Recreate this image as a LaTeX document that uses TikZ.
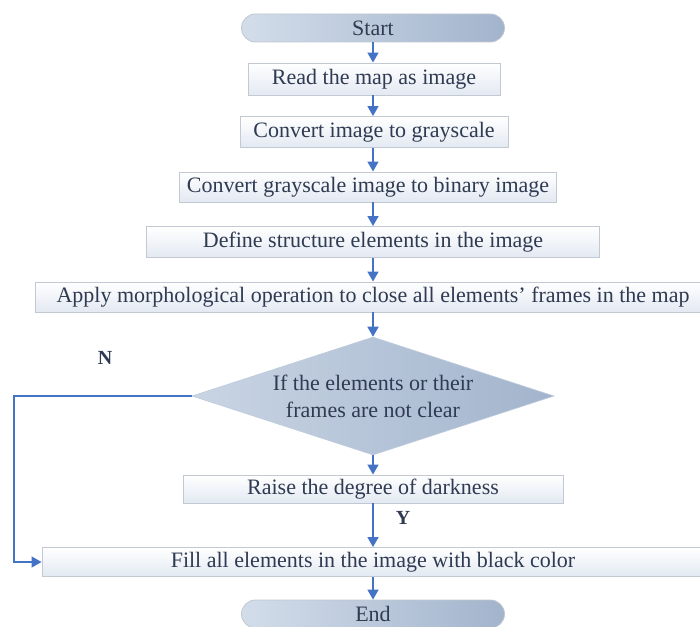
\documentclass[tikz,border=0pt]{standalone}
\usepackage{fontspec}
\setmainfont{Liberation Serif}
\usetikzlibrary{arrows.meta}
\usetikzlibrary{shapes.geometric}
\definecolor{flowblue}{HTML}{4472C4}
\definecolor{inktext}{HTML}{2F3B52}
\definecolor{boxline}{HTML}{C3C9D2}
\definecolor{boxshade}{HTML}{E3E9F2}
\definecolor{pilllight}{HTML}{D3DDEA}
\definecolor{pilldark}{HTML}{A2B4CC}
\tikzset{
  stepbox/.style={draw=boxline, line width=0.9pt, top color=white, bottom color=boxshade,
    rectangle, inner sep=0pt, text=inktext, font=\fontsize{22}{24}\selectfont, minimum height=30pt},
  terminal/.style={draw=pilldark!80!black!50, line width=0.8pt, left color=pilllight, right color=pilldark,
    rounded corners=14pt, inner sep=0pt, text=inktext, font=\fontsize{22}{24}\selectfont,
    minimum width=263pt, minimum height=28pt},
  decision/.style={diamond, aspect=3.07, draw=pilldark!70!white, line width=0.6pt,
    left color=pilllight!80!pilldark, right color=pilldark, inner sep=0pt, text=inktext,
    font=\fontsize{22}{27}\selectfont, align=center, minimum width=362pt, minimum height=118pt},
  flow/.style={draw=flowblue, line width=1.6pt, -{Triangle[length=10pt,width=11pt]}},
  loopline/.style={draw=flowblue, line width=1.3pt, -{Triangle[length=10pt,width=11pt]}},
  answer/.style={text=inktext, font=\fontsize{20}{22}\selectfont\bfseries}
}
\begin{document}
\begin{tikzpicture}[x=1pt, y=-1pt]
    \useasboundingbox (0,0) rectangle (700,626);
    \node[terminal] (start) at (373,28) {Start};
    \node[stepbox, minimum width=252pt, minimum height=32pt] (read) at (374,79) {Read the map as image};
    \node[stepbox, minimum width=268pt, minimum height=31pt] (gray) at (374,132) {Convert image to grayscale};
    \node[stepbox, minimum width=377pt] (binary) at (368,187) {Convert grayscale image to binary image};
    \node[stepbox, minimum width=453pt, minimum height=31pt] (define) at (373,242) {Define structure elements in the image};
    \node[stepbox, minimum width=676pt] (apply) at (373,297) {Apply morphological operation to close all elements’ frames in the map};
    \node[decision] (cond) at (373,396) {If the elements or their\\frames are not clear};
    \node[stepbox, minimum width=380pt, minimum height=28pt] (raise) at (373,489) {Raise the degree of darkness};
    \node[stepbox, minimum width=662pt, minimum height=29pt] (fill) at (373,562) {Fill all elements in the image with black color};
    \node[terminal] (end) at (373,614) {End};
    \node[answer] (no) at (105,358) {N};
    \node[answer] (yes) at (403,518) {Y};
    \coordinate (bend) at (14,396);
    % main chain
    \foreach \a/\b in {start/read, read/gray, gray/binary, binary/define, define/apply, apply/cond, cond/raise, raise/fill, fill/end}
      \draw[flow] (start.south |- \a.south) -- (start.south |- \b.north);
    % no branch
    \draw[loopline] (cond.west) -- (bend) |- (fill.west);
\end{tikzpicture}
\end{document}
